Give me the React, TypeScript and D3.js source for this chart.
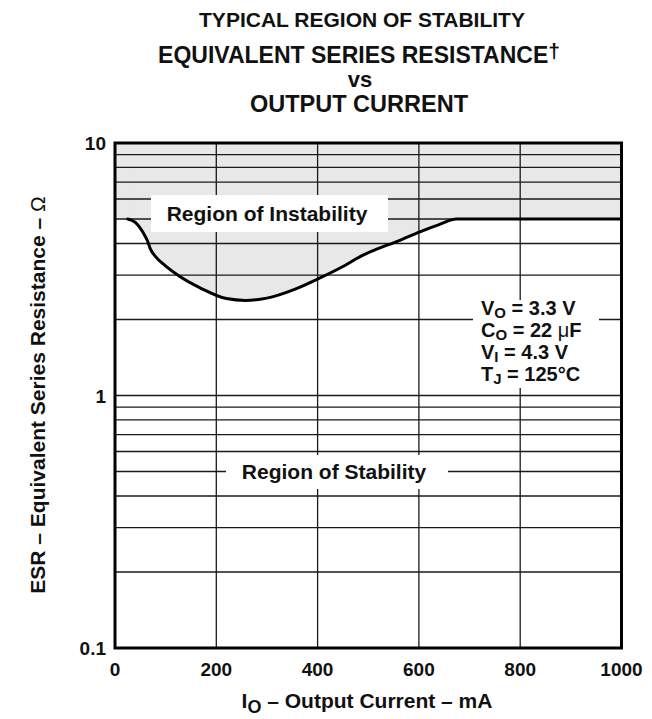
import React from "react";
import * as d3 from "d3";

// ---- data ----
const titleLines = ["TYPICAL REGION OF STABILITY", "EQUIVALENT SERIES RESISTANCE", "vs", "OUTPUT CURRENT"];
const currentMA = [25, 40, 56, 64, 70, 80, 99, 128, 168, 220, 257, 300, 352, 398, 451, 484, 510, 560, 602, 640, 674, 1000];
const esrOhm = [5.0, 4.85, 4.4, 4.1, 3.8, 3.55, 3.27, 2.96, 2.67, 2.42, 2.38, 2.43, 2.62, 2.88, 3.25, 3.55, 3.75, 4.1, 4.45, 4.75, 5.0, 5.0];
const xTicks = [0, 200, 400, 600, 800, 1000];
const xGrid = [200, 400, 600, 800];
const yTickLabels = [0.1, 1, 10];
const yGrid = [0.2, 0.3, 0.4, 0.5, 0.6, 0.7, 0.8, 0.9, 1, 2, 3, 4, 5, 6, 7, 8, 9];
const edgeCurrent = [0, 25];
const edgeEsr = 5;

const W = 652;
const H = 719;
const plot = { left: 115, right: 621.5, top: 143, bottom: 648 };
const FONT = "'Liberation Sans', Arial, Helvetica, sans-serif";

export default function App() {
  const x = d3.scaleLinear().domain([0, 1000]).range([plot.left, plot.right]);
  const y = d3.scaleLog().domain([0.1, 10]).range([plot.bottom, plot.top]);

  const pts = currentMA.map((c, i) => [c, esrOhm[i]] as [number, number]);
  const line = d3
    .line<[number, number]>()
    .x((d) => x(d[0]))
    .y((d) => y(d[1]))
    .curve(d3.curveMonotoneX);
  const area = d3
    .area<[number, number]>()
    .x((d) => x(d[0]))
    .y0(y(10))
    .y1((d) => y(d[1]))
    .curve(d3.curveMonotoneX);

  const fmtY = (v: number) => String(v);

  return (
    <svg width={W} height={H} style={{ display: "block", position: "absolute", left: 0, top: 0 }} fontFamily={FONT}>
      <rect x={0} y={0} width={W} height={H} fill="#fff" />
      {/* instability shading */}
      <path d={area(pts) || ""} fill="#e8e8e8" />
      <rect
        x={x(edgeCurrent[0])}
        y={y(10)}
        width={x(edgeCurrent[1]) - x(edgeCurrent[0]) + 1}
        height={y(edgeEsr) - y(10)}
        fill="#e8e8e8"
      />
      {/* grid */}
      {yGrid.map((v) => (
        <line key={"h" + v} x1={plot.left} x2={plot.right} y1={y(v)} y2={y(v)} stroke="#1a1a1a" strokeWidth={1.3} />
      ))}
      {xGrid.map((v) => (
        <line key={"v" + v} x1={x(v)} x2={x(v)} y1={plot.top} y2={plot.bottom} stroke="#1a1a1a" strokeWidth={1.3} />
      ))}
      {/* label boxes that break the grid */}
      <rect x={151} y={195} width={237} height={37} fill="#fff" />
      <rect x={226} y={455} width={222} height={34} fill="#fff" />
      <rect x={473} y={300} width={126} height={88} fill="#fff" />
      {/* curve */}
      <path d={line(pts) || ""} fill="none" stroke="#000" strokeWidth={3} strokeLinejoin="round" strokeLinecap="round" />
      {/* frame */}
      <rect
        x={plot.left}
        y={plot.top}
        width={plot.right - plot.left}
        height={plot.bottom - plot.top}
        fill="none"
        stroke="#000"
        strokeWidth={3}
      />
      {/* region labels */}
      <text x={267} y={221} textAnchor="middle" fontWeight="bold" fontSize={21} fill="#111">
        Region of Instability
      </text>
      <text x={334} y={479} textAnchor="middle" fontWeight="bold" fontSize={21} fill="#111">
        Region of Stability
      </text>
      {/* conditions */}
      <g fontWeight="bold" fontSize={20} fill="#111">
        <text x={481} y={315}>
          V<tspan fontSize={15} dy={3}>O</tspan>
          <tspan dy={-3}> = 3.3 V</tspan>
        </text>
        <text x={481} y={337}>
          C<tspan fontSize={15} dy={3}>O</tspan>
          <tspan dy={-3}> = 22 </tspan>
          <tspan fontWeight="normal">μ</tspan>F
        </text>
        <text x={481} y={359}>
          V<tspan fontSize={15} dy={3}>I</tspan>
          <tspan dy={-3}> = 4.3 V</tspan>
        </text>
        <text x={481} y={381}>
          T<tspan fontSize={15} dy={3}>J</tspan>
          <tspan dy={-3}> = 125°C</tspan>
        </text>
      </g>
      {/* ticks */}
      {xTicks.map((t) => (
        <text key={"xt" + t} x={x(t)} y={676} textAnchor="middle" fontWeight="bold" fontSize={19} fill="#111">
          {t}
        </text>
      ))}
      {yTickLabels.map((t) => (
        <text key={"yt" + t} x={106} y={y(t) + 7} textAnchor="end" fontWeight="bold" fontSize={19} fill="#111">
          {fmtY(t)}
        </text>
      ))}
      {/* axis titles */}
      <text x={367} y={708} textAnchor="middle" fontWeight="bold" fontSize={21} fill="#111">
        I<tspan fontSize={18} dy={5}>O</tspan>
        <tspan dy={-5}> – Output Current – mA</tspan>
      </text>
      <text transform={`translate(45,395) rotate(-90)`} textAnchor="middle" fontWeight="bold" fontSize={21} fill="#111">
        ESR – Equivalent Series Resistance – <tspan fontWeight="normal">Ω</tspan>
      </text>
      {/* chart title */}
      <g fontWeight="bold" fill="#111" textAnchor="middle">
        <text x={362} y={27} fontSize={21}>
          {titleLines[0]}
        </text>
        <text x={359} y={63} fontSize={23}>
          {titleLines[1]}
          <tspan dy={-5} fontSize={21}>†</tspan>
        </text>
        <text x={360} y={87} fontSize={22}>
          {titleLines[2]}
        </text>
        <text x={359} y={112} fontSize={23.5}>
          {titleLines[3]}
        </text>
      </g>
    </svg>
  );
}
